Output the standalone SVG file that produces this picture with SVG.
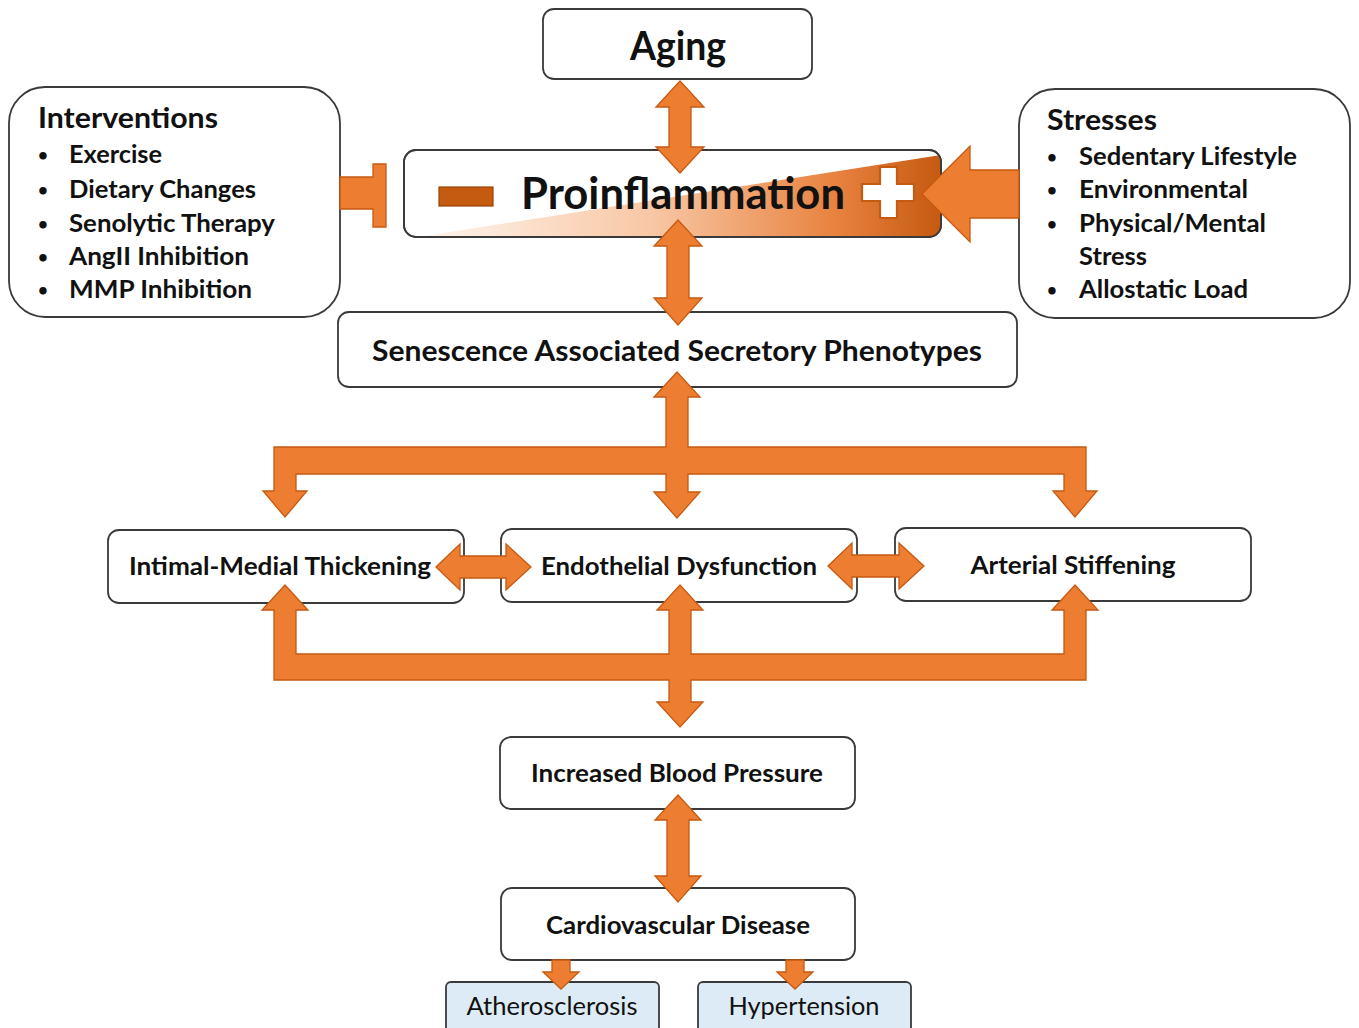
<svg xmlns="http://www.w3.org/2000/svg" width="1359" height="1028" viewBox="0 0 1359 1028">
<defs>
<style>
.box{fill:#fff;stroke:#3a3a3a;stroke-width:1.8}
.blue{fill:#DDEBF7;stroke:#3a3a3a;stroke-width:1.8}
.arr{fill:#ED7D31;stroke:#C55A11;stroke-width:1.3;stroke-linejoin:miter}
text{font-family:Lato,"Open Sans","Liberation Sans",sans-serif;font-weight:700;fill:#111}
.c{text-anchor:middle}
.reg{font-weight:400}
.bul{font-size:17px}
</style>
<linearGradient id="g" x1="415" y1="0" x2="941" y2="0" gradientUnits="userSpaceOnUse">
<stop offset="0" stop-color="#FFF6F0"/>
<stop offset="0.45" stop-color="#F8C7A4"/>
<stop offset="0.8" stop-color="#E8823F"/>
<stop offset="1" stop-color="#C55A11"/>
</linearGradient>
<clipPath id="pc"><rect x="404" y="150" width="537" height="87" rx="12"/></clipPath>
</defs>

<g id="aging">
<rect class="box" x="543" y="9" width="269" height="70" rx="11"/>
<text class="c" x="678" y="60" font-size="40" textLength="96" lengthAdjust="spacingAndGlyphs">Aging</text>
</g>

<g id="proinflammation">
<rect class="box" x="404" y="150" width="537" height="87" rx="12"/>
<polygon points="418,237 941,155 941,237" fill="url(#g)" clip-path="url(#pc)"/>
<rect x="404" y="150" width="537" height="87" rx="12" fill="none" stroke="#3a3a3a" stroke-width="1.8"/>
<rect x="439" y="187" width="54" height="19" fill="#C55A11" stroke="#9C4209" stroke-width="1.2"/>
<text class="c" x="683" y="209" font-size="44" textLength="324" lengthAdjust="spacingAndGlyphs">Proinflammation</text>
<path d="M880,167 L897,167 L897,184 L914,184 L914,201 L897,201 L897,218 L880,218 L880,201 L862,201 L862,184 L880,184 Z" fill="#fff" stroke="#C55A11" stroke-width="2.2"/>
</g>

<g id="interventions">
<rect class="box" x="9" y="87" width="331" height="230" rx="36"/>
<text x="38" y="128" font-size="29" textLength="180" lengthAdjust="spacingAndGlyphs">Interventions</text>
<text class="bul" x="38" y="161">•</text>
<text x="69" y="163" font-size="25" textLength="93" lengthAdjust="spacingAndGlyphs">Exercise</text>
<text class="bul" x="38" y="196">•</text>
<text x="69" y="198" font-size="25" textLength="187" lengthAdjust="spacingAndGlyphs">Dietary Changes</text>
<text class="bul" x="38" y="230">•</text>
<text x="69" y="232" font-size="25" textLength="206" lengthAdjust="spacingAndGlyphs">Senolytic Therapy</text>
<text class="bul" x="38" y="263">•</text>
<text x="69" y="265" font-size="25" textLength="180" lengthAdjust="spacingAndGlyphs">AngII Inhibition</text>
<text class="bul" x="38" y="296">•</text>
<text x="69" y="298" font-size="25" textLength="183" lengthAdjust="spacingAndGlyphs">MMP Inhibition</text>
</g>

<g id="stresses">
<rect class="box" x="1019" y="89" width="331" height="229" rx="36"/>
<text x="1047" y="130" font-size="29" textLength="110" lengthAdjust="spacingAndGlyphs">Stresses</text>
<text class="bul" x="1047" y="163">•</text>
<text x="1079" y="165" font-size="25" textLength="218" lengthAdjust="spacingAndGlyphs">Sedentary Lifestyle</text>
<text class="bul" x="1047" y="196">•</text>
<text x="1079" y="198" font-size="25" textLength="169" lengthAdjust="spacingAndGlyphs">Environmental</text>
<text class="bul" x="1047" y="230">•</text>
<text x="1079" y="232" font-size="25" textLength="187" lengthAdjust="spacingAndGlyphs">Physical/Mental</text>
<text x="1079" y="265" font-size="25" textLength="68" lengthAdjust="spacingAndGlyphs">Stress</text>
<text class="bul" x="1047" y="296">•</text>
<text x="1079" y="298" font-size="25" textLength="169" lengthAdjust="spacingAndGlyphs">Allostatic Load</text>
</g>

<g id="sasp">
<rect class="box" x="338" y="312" width="679" height="75" rx="11"/>
<text class="c" x="677" y="361" font-size="28" textLength="610" lengthAdjust="spacingAndGlyphs">Senescence Associated Secretory Phenotypes</text>
</g>

<g id="imt">
<rect class="box" x="108" y="530" width="356" height="73" rx="11"/>
<text class="c" x="280" y="575" font-size="25" textLength="302" lengthAdjust="spacingAndGlyphs">Intimal-Medial Thickening</text>
</g>

<g id="ed">
<rect class="box" x="501" y="529" width="356" height="73" rx="11"/>
<text class="c" x="679" y="575" font-size="25" textLength="276" lengthAdjust="spacingAndGlyphs">Endothelial Dysfunction</text>
</g>

<g id="as">
<rect class="box" x="895" y="528" width="356" height="73" rx="11"/>
<text class="c" x="1073" y="574" font-size="25" textLength="205" lengthAdjust="spacingAndGlyphs">Arterial Stiffening</text>
</g>

<g id="ibp">
<rect class="box" x="500" y="737" width="355" height="72" rx="11"/>
<text class="c" x="677" y="782" font-size="25" textLength="292" lengthAdjust="spacingAndGlyphs">Increased Blood Pressure</text>
</g>

<g id="cvd">
<rect class="box" x="501" y="888" width="354" height="72" rx="11"/>
<text class="c" x="678" y="934" font-size="25" textLength="264" lengthAdjust="spacingAndGlyphs">Cardiovascular Disease</text>
</g>

<g id="atherosclerosis">
<rect class="blue" x="446" y="982" width="213" height="56" rx="5"/>
<text class="c reg" x="552" y="1015" font-size="25" textLength="171" lengthAdjust="spacingAndGlyphs">Atherosclerosis</text>
</g>

<g id="hypertension">
<rect class="blue" x="698" y="982" width="213" height="56" rx="5"/>
<text class="c reg" x="804" y="1015" font-size="25" textLength="151" lengthAdjust="spacingAndGlyphs">Hypertension</text>
</g>

<g id="connectors">
<path class="arr" d="M680,81 L704,107 L691,107 L691,147 L704,147 L680,173 L656,147 L669,147 L669,107 L656,107 Z"/>
<path class="arr" d="M678,220 L702,246 L689,246 L689,298 L702,298 L678,325 L654,298 L667,298 L667,246 L654,246 Z"/>
<path class="arr" d="M1019,170 L970,170 L970,146 L922,194 L970,242 L970,218 L1019,218 Z"/>
<path class="arr" d="M340,177 L373,177 L373,164 L386,164 L386,227 L373,227 L373,209 L340,209 Z"/>
<path class="arr" d="M677,372 L700,397 L688,397 L688,447 L1086,447 L1086,491 L1097,491 L1075,517 L1053,491 L1064,491 L1064,474 L688,474 L688,492 L700,492 L677,518 L654,492 L666,492 L666,474 L296,474 L296,491 L307,491 L285,517 L263,491 L274,491 L274,447 L666,447 L666,397 L654,397 Z"/>
<path class="arr" d="M285,585 L308,610 L296,610 L296,654 L669,654 L669,610 L657,610 L680,585 L703,610 L691,610 L691,654 L1064,654 L1064,610 L1052,610 L1075,585 L1098,610 L1086,610 L1086,680 L691,680 L691,702 L703,702 L680,727 L657,702 L669,702 L669,680 L274,680 L274,610 L262,610 Z"/>
<path class="arr" d="M436,567 L460,544 L460,556 L506,556 L506,544 L531,567 L506,590 L506,578 L460,578 L460,590 Z"/>
<path class="arr" d="M828,566 L852,543 L852,555 L899,555 L899,543 L924,566 L899,589 L899,577 L852,577 L852,589 Z"/>
<path class="arr" d="M678,795 L701,820 L689,820 L689,876 L701,876 L678,902 L655,876 L667,876 L667,820 L655,820 Z"/>
<path class="arr" d="M552,960 L570,960 L570,972 L579,972 L561,989 L543,972 L552,972 Z"/>
<path class="arr" d="M786,960 L804,960 L804,972 L813,972 L795,989 L777,972 L786,972 Z"/>
</g>
</svg>
